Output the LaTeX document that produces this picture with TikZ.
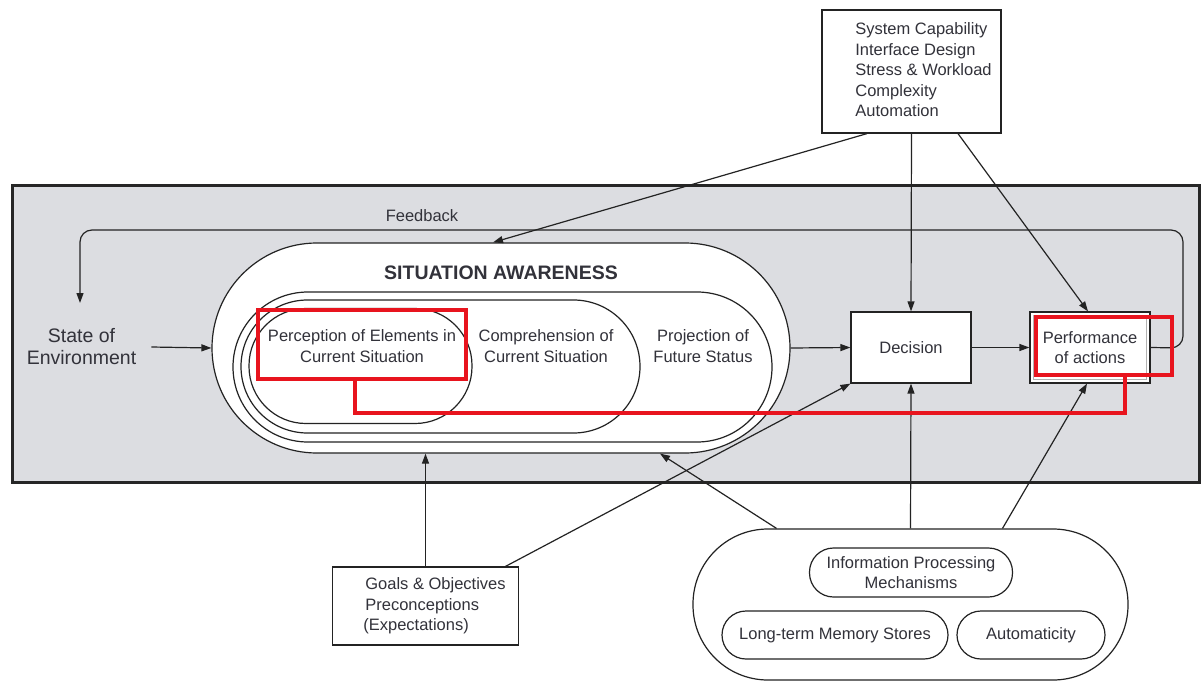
\documentclass[tikz,border=0pt]{standalone}
\usepackage{fontspec}
\setmainfont{Liberation Sans}
\usetikzlibrary{arrows.meta,calc}
\definecolor{panel}{RGB}{220,221,225}
\definecolor{txt}{RGB}{50,50,58}
\definecolor{ln}{RGB}{35,35,35}
\definecolor{redann}{RGB}{232,20,30}
\begin{document}
\begin{tikzpicture}[x=1pt,y=-1pt,
  every node/.style={font=\fontsize{16.5}{20.5}\selectfont, text=txt},
  line/.style={draw=ln, line width=1.2pt},
  arr/.style={line, -{Triangle[length=10pt,width=7pt]}},
  box/.style={line, fill=white, rectangle, inner sep=0pt},
  pill/.style={line, fill=white, rectangle, inner sep=0pt, rounded corners=#1},
  hilite/.style={draw=redann, line width=3.5pt, rectangle, inner sep=0pt, outer sep=0pt},
  redline/.style={draw=redann, line width=3.5pt},
]
\useasboundingbox (0,0) rectangle (1201,682);
\fill[white] (0,0) rectangle (1201,682);
\draw[fill=panel, line width=3pt, draw=black!85] (12,185) rectangle (1199.5,482);

% top factors box
\node[box, minimum width=179pt, minimum height=123pt] (sys) at (911.5,71.5)
  {\hspace*{24pt}\begin{tabular}{@{}l@{}}System Capability\\Interface Design\\Stress \& Workload\\Complexity\\Automation\end{tabular}};

% situation awareness
\node[pill=105pt, minimum width=578pt, minimum height=210pt] (sa) at (501,348) {};
\node[pill=75pt, minimum width=539pt, minimum height=150pt] (proj) at (502.5,367) {};
\node[pill=66.5pt, minimum width=399pt, minimum height=133pt] (comp) at (440.5,366.5) {};
\node[pill=57pt, minimum width=223pt, minimum height=115pt] (perc) at (360.5,366) {};
\node[font=\bfseries\fontsize{19.5}{22}\selectfont] (satitle) at (501,273) {SITUATION AWARENESS};
\node[align=center] (perct) at (362,346) {Perception of Elements in\\Current Situation};
\node[align=center] (compt) at (546,346) {Comprehension of\\Current Situation};
\node[align=center] (projt) at (703,346) {Projection of\\Future Status};

% decision / performance
\node[box, minimum width=120pt, minimum height=71pt] (dec) at (911,347.5) {Decision};
\node[box, minimum width=120pt, minimum height=71pt, align=center] (perf) at (1090,347.5) {Performance\\of actions};
\draw[gray!60, line width=0.8pt] ([shift={(4pt,-4pt)}]perf.north west) rectangle ([shift={(-4pt,4pt)}]perf.south east);

% state of environment
\node[align=center, font=\fontsize{19.5}{22}\selectfont, inner xsep=15pt] (state) at (81.5,347) {State of\\Environment};
\node (fbl) at (422,216) {Feedback};
\coordinate (fbend) at (80,303);

% goals box
\node[box, minimum width=186pt, minimum height=78pt] (goals) at (425.5,606)
  {\hspace*{20pt}\begin{tabular}{@{}l@{}}Goals \& Objectives\\Preconceptions\\\hspace*{-2pt}(Expectations)\end{tabular}};

% mechanisms
\node[pill=75pt, minimum width=435pt, minimum height=151pt] (mech) at (910.5,604.5) {};
\node[pill=24pt, minimum width=203pt, minimum height=49pt, align=center] (ipm) at (911,572.5) {Information Processing\\Mechanisms};
\node[pill=24pt, minimum width=226pt, minimum height=48pt] (ltm) at (835,635) {Long-term Memory Stores};
\node[pill=24pt, minimum width=148pt, minimum height=48pt] (auto) at (1031,635) {Automaticity};

% connectors
\draw[arr] (state.east) -- (sa.west);
\draw[arr] (sa.east) -- (dec.west);
\draw[arr] (dec.east) -- (perf.west);
\draw[arr] ([xshift=-44.5pt]sys.south) -- ([xshift=-8pt]sa.north);
\draw[arr] (sys.south) -- (dec.north);
\draw[arr] ([xshift=46.5pt]sys.south) -- ([xshift=-2pt]perf.north);
\draw[arr] (goals.north) -- (goals.north |- sa.south);
\draw[arr] ([xshift=80pt]goals.north) -- (dec.south west);
\draw[arr] ([xshift=-134pt]mech.north) -- ([xshift=159pt]sa.south);
\draw[arr] (mech.north) -- (dec.south);
\draw[arr] ([xshift=92pt]mech.north) -- ([xshift=-3pt]perf.south);
\draw[arr, rounded corners=12pt] (perf.east) -- (1183,348) -- (1183,230) -- (80,230) -- (fbend);

% red annotations
\node[hilite, minimum width=208pt, minimum height=69pt] (r1) at (362,344.5) {};
\node[hilite, minimum width=136pt, minimum height=58pt] (r2) at (1104,346) {};
\draw[redline] ([xshift=-7pt]r1.south) -- ++(0,34) -| ([xshift=21pt]r2.south);
\end{tikzpicture}
\end{document}
